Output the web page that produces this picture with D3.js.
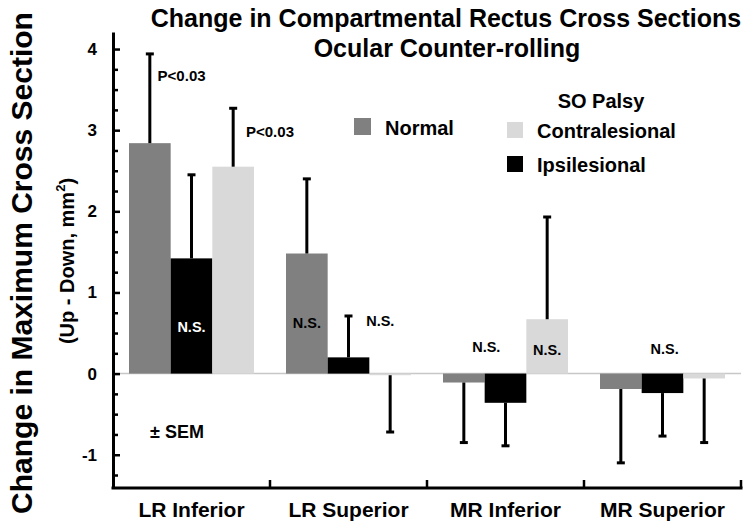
<!DOCTYPE html>
<html>
<head>
<meta charset="utf-8">
<script src="https://cdn.jsdelivr.net/npm/d3@7"></script>
<style>
  html, body { margin: 0; padding: 0; background: #ffffff; }
  svg { display: block; }
  text { font-family: "Liberation Sans", Arial, Helvetica, sans-serif; font-weight: bold; fill: #000; }
</style>
</head>
<body>
<svg id="chart" width="750" height="526"></svg>
<script>
// ---------------- data ----------------
const categories = ["LR Inferior", "LR Superior", "MR Inferior", "MR Superior"];
const seriesNames = ["Normal", "Ipsilesional", "Contralesional"];
const normalValues = [2.84, 1.48, -0.11, -0.19];
const normalSEM    = [1.10, 0.92, 0.74, 0.91];
const ipsiValues   = [1.42, 0.20, -0.36, -0.24];
const ipsiSEM      = [1.03, 0.51, 0.53, 0.53];
const contraValues = [2.55, -0.02, 0.67, -0.06];
const contraSEM    = [0.72, 0.70, 1.26, 0.79];
const yMajorTicks  = [-1, 0, 1, 2, 3, 4];
const yTickLabels  = ["-1", "0", "1", "2", "3", "4"];
const titleLines   = ["Change in Compartmental Rectus Cross Sections", "Ocular Counter-rolling"];
const yLabel       = "Change in Maximum Cross Section";

const seriesColors = { "Normal": "#808080", "Ipsilesional": "#000000", "Contralesional": "#d9d9d9" };

const rows = [];
categories.forEach((c, i) => {
  rows.push({ cat: c, s: "Normal", v: normalValues[i], e: normalSEM[i] });
  rows.push({ cat: c, s: "Ipsilesional", v: ipsiValues[i], e: ipsiSEM[i] });
  rows.push({ cat: c, s: "Contralesional", v: contraValues[i], e: contraSEM[i] });
});

// ---------------- layout ----------------
const svg = d3.select("#chart");
const plotL = 113, plotR = 741, plotT = 32, plotB = 488;

const y = d3.scaleLinear().domain([-1.41, 4.21]).range([plotB, plotT]);
const x0 = d3.scaleBand().domain(categories).range([plotL, plotR]).padding(0);
const x1 = d3.scaleBand().domain(seriesNames).range([16, x0.bandwidth() - 16]).padding(0);

svg.append("rect").attr("width", 750).attr("height", 526).attr("fill", "#fff");

// zero line
svg.append("line")
  .attr("x1", plotL).attr("x2", plotR)
  .attr("y1", y(0)).attr("y2", y(0))
  .attr("stroke", "#c8c8c8").attr("stroke-width", 1.5);

// bars
svg.append("g").selectAll("rect").data(rows).join("rect")
  .attr("x", d => x0(d.cat) + x1(d.s))
  .attr("width", x1.bandwidth())
  .attr("y", d => y(Math.max(0, d.v)))
  .attr("height", d => Math.max(1, Math.abs(y(d.v) - y(0))))
  .attr("fill", d => seriesColors[d.s]);

// error bars (one-sided, away from zero)
const eb = svg.append("g").attr("stroke", "#000").attr("stroke-width", 3);
rows.forEach(d => {
  const cx = x0(d.cat) + x1(d.s) + x1.bandwidth() / 2;
  const end = d.v >= 0 ? d.v + d.e : d.v - d.e;
  eb.append("line").attr("x1", cx).attr("x2", cx).attr("y1", y(d.v)).attr("y2", y(end));
  eb.append("line").attr("x1", cx - 4).attr("x2", cx + 4).attr("y1", y(end)).attr("y2", y(end));
});

// y axis: minor ticks
const minorTicks = d3.range(-1.25, 4.01, 0.25).filter(t => Math.abs(t - Math.round(t)) > 1e-6);
svg.append("g").attr("transform", `translate(${plotL},0)`)
  .call(d3.axisLeft(y).tickValues(minorTicks).tickSize(-5).tickSizeOuter(0).tickFormat(""))
  .call(g => g.select(".domain").remove())
  .call(g => g.selectAll("line").attr("stroke", "#000").attr("stroke-width", 2.5));

// y axis: major ticks and labels
svg.append("g").attr("transform", `translate(${plotL},0)`)
  .call(d3.axisLeft(y).tickValues(yMajorTicks).tickSize(-7).tickSizeOuter(0).tickPadding(16)
    .tickFormat((d, i) => yTickLabels[i]))
  .call(g => g.select(".domain").attr("stroke", "#000").attr("stroke-width", 3))
  .call(g => g.selectAll("line").attr("stroke", "#000").attr("stroke-width", 2.5))
  .call(g => g.selectAll("text").attr("font-size", 17).attr("font-family", "Liberation Sans, Arial, sans-serif").attr("font-weight", "bold").attr("fill", "#000"));

// x axis
svg.append("line").attr("x1", plotL - 1.5).attr("x2", plotR + 1.5).attr("y1", plotB).attr("y2", plotB)
  .attr("stroke", "#000").attr("stroke-width", 3);
categories.forEach(c => {
  const xe = x0(c) + x0.bandwidth();
  svg.append("line").attr("x1", xe).attr("x2", xe).attr("y1", plotB).attr("y2", plotB - 8)
    .attr("stroke", "#000").attr("stroke-width", 2.5);
  svg.append("text").attr("x", x0(c) + x0.bandwidth() / 2).attr("y", 517)
    .attr("text-anchor", "middle").attr("font-size", 21).text(c);
});

// title
svg.append("text").attr("x", 446).attr("y", 27).attr("text-anchor", "middle").attr("font-size", 25).text(titleLines[0]);
svg.append("text").attr("x", 447).attr("y", 57).attr("text-anchor", "middle").attr("font-size", 25).text(titleLines[1]);

// y labels
svg.append("text").attr("transform", "translate(32,263) rotate(-90)")
  .attr("text-anchor", "middle").attr("font-size", 30).text(yLabel);
const sub = svg.append("text").attr("transform", "translate(74,261) rotate(-90)")
  .attr("text-anchor", "middle").attr("font-size", 20);
sub.append("tspan").text("(Up - Down, mm");
sub.append("tspan").attr("dy", -9).attr("font-size", 13).text("2");
sub.append("tspan").attr("dy", 9).text(")");

// annotations
function bx(cat, s) { return x0(cat) + x1(s) + x1.bandwidth() / 2; }
const ann = [
  { t: "P<0.03", x: x0("LR Inferior") + 68.6, v: 3.61, c: "#000" },
  { t: "P<0.03", x: x0("LR Inferior") + 157, v: 2.92, c: "#000" },
  { t: "N.S.", x: bx("LR Inferior", "Ipsilesional"), v: 0.51, c: "#fff" },
  { t: "N.S.", x: bx("LR Superior", "Normal"), v: 0.56, c: "#000" },
  { t: "N.S.", x: x0("LR Superior") + 110.3, v: 0.59, c: "#000" },
  { t: "N.S.", x: x0("MR Inferior") + 59.3, v: 0.27, c: "#000" },
  { t: "N.S.", x: bx("MR Inferior", "Contralesional"), v: 0.23, c: "#000" },
  { t: "N.S.", x: x0("MR Superior") + 80.7, v: 0.24, c: "#000" }
];
ann.forEach(a => {
  svg.append("text").attr("x", a.x).attr("y", y(a.v)).attr("text-anchor", "middle")
    .attr("font-size", a.t === "N.S." ? 14.5 : 15).style("fill", a.c).text(a.t);
});
svg.append("text").attr("x", 150).attr("y", 438).attr("font-size", 18).text("\u00b1 SEM");

// legend
const leg = svg.append("g");
leg.append("rect").attr("x", 354).attr("y", 118).attr("width", 17).attr("height", 17).attr("fill", seriesColors["Normal"]);
leg.append("text").attr("x", 385).attr("y", 135).attr("font-size", 20).text("Normal");
leg.append("text").attr("x", 601).attr("y", 108).attr("text-anchor", "middle").attr("font-size", 20).text("SO Palsy");
leg.append("rect").attr("x", 507).attr("y", 122).attr("width", 16).attr("height", 16).attr("fill", seriesColors["Contralesional"]);
leg.append("text").attr("x", 537).attr("y", 138).attr("font-size", 20).text("Contralesional");
leg.append("rect").attr("x", 507).attr("y", 156).attr("width", 16).attr("height", 16).attr("fill", seriesColors["Ipsilesional"]);
leg.append("text").attr("x", 537).attr("y", 172).attr("font-size", 20).text("Ipsilesional");
</script>
</body>
</html>
